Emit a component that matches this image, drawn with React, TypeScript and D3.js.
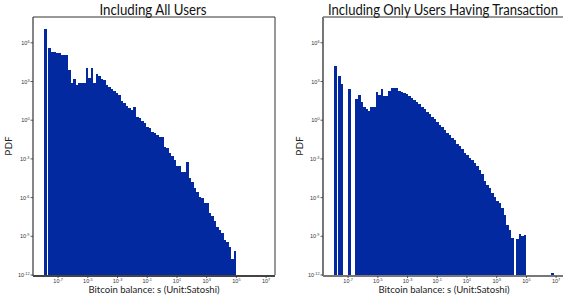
import React from "react";
import * as d3 from "d3";

// PDF per log-spaced bin (bins start at 10^-7.69, 0.169 decades wide)
const allUsers = [
  4.1e5, 1.8e5, 1.8e5, 1.6e5, 1.5e5, 1.2e5, 1.2e5, 1.2e5, 8.5e3, 7.1e2,
  1.7e3, 4.9e2, 7.1e2, 7.1e2, 7.1e2, 1.2e4, 2.0e3, 1.2e4, 7.1e2, 3.5e3,
  2.5e3, 1.7e3, 1.4e3, 4.9e2, 3.5e2, 2.5e2, 1.7e2, 1.2e2, 83, 29,
  20, 12, 8.3, 5.8, 9.8, 1.7, 1.4, 0.81, 0.58, 0.28,
  0.23, 0.115, 0.095, 0.068, 0.047, 0.047, 7.9e-3, 6.6e-3, 2.9e-3, 1.6e-3,
  7.8e-4, 2.7e-4, 2.7e-4, 9.3e-5, 9.3e-5, 5.5e-4, 3.2e-5, 1.6e-5, 5.4e-6, 2.6e-6,
  1.1e-6, 9.1e-7, 3.7e-7, 3.7e-7, 6.2e-8, 3.6e-8, 1.5e-8, 5.1e-9, 3.0e-9, 1.8e-9,
  5.1e-10, 3.5e-10, 1.5e-10, 1.7e-11, 7.2e-11,
];

const txUsers: (number | null)[] = [
  2.6e3, 5.9e2, null, null, 2.5e2, null, null, 41, 83, 25,
  10.5, 7.8, 5.1, 10.5, 10.5, 1.5e2, 83, 2.5e2, 71, 71,
  2.0e2, 3.3e2, 3.3e2, 3.3e2, 2.0e2, 1.5e2, 1.26e2, 1.1e2, 74, 51,
  39, 25, 17, 10.5, 6.9, 4.3, 2.8, 1.7, 1.3, 0.72,
  0.45, 0.3, 0.16, 0.1, 0.068, 0.045, 0.028, 0.015, 9.5e-3, 6.3e-3,
  2.9e-3, 1.9e-3, 1.26e-3, 7.8e-4, 4.9e-4, 2.7e-4, 1.5e-4, 6.5e-5, 1.9e-5, 9.1e-6,
  5.1e-6, 2.3e-6, 1.15e-6, 5.6e-7, 3.9e-7, 1.7e-7, 4.4e-8, 7.4e-9, 3.0e-9, 6.9e-10,
  null, 5.8e-10, 1.5e-9, 1.05e-9, 1.26e-9, null, null, null, null, null,
  null, null, null, null, null, 1.5e-12,
];

// separate leading bar (left of the binned range)
const leadAll = 1.1e7;
const leadTx = 1.5e4;
const leadBin = [-7.93, -7.765];

const binStart = -7.69;
const binWidth = 0.169;

const xTickExps = [-7, -5, -3, -1, 1, 3, 5, 7];
const yTickExps = [6, 3, 0, -3, -6, -9, -12];

const BLUE = "#0329a0";
const W = 242;
const H = 258;

const x = d3.scaleLog().domain([10 ** -8.69, 10 ** 7.6]).range([0, W]);
const y = d3.scaleLog().domain([1e-12, 1e8]).range([H, 0]);

type PanelProps = {
  left: number;
  title: string;
  titleW: number;
  values: (number | null)[];
  lead: number;
  spine: string;
  spineW: number;
};

const Pow = ({ exp }: { exp: number }) => (
  <>
    <tspan>10</tspan>
    <tspan fontSize={3.8} dy={-2}>{exp}</tspan>
  </>
);

const Panel = ({ left, title, titleW, values, lead, spine, spineW }: PanelProps) => {
  const top = 17;
  return (
    <g transform={`translate(${left},${top})`}>
      <text x={W / 2 - 1} y={-2.5} textAnchor="middle" fontSize={14.5}
        fontFamily="Lato, 'Liberation Sans', sans-serif" fill="#111"
        textLength={titleW} lengthAdjust="spacingAndGlyphs">
        {title}
      </text>
      <g shapeRendering="crispEdges">
        <rect x={x(10 ** leadBin[0])} width={x(10 ** leadBin[1]) - x(10 ** leadBin[0])}
          y={y(lead)} height={H - y(lead)} fill={BLUE} />
        {values.map((v, i) => {
          if (v == null) return null;
          const x0 = x(10 ** (binStart + i * binWidth));
          const x1 = x(10 ** (binStart + (i + 1) * binWidth));
          return <rect key={i} x={x0} width={x1 - x0 + 0.3} y={y(v)} height={H - y(v)} fill={BLUE} />;
        })}
      </g>
      {/* frame */}
      <line x1={0} x2={W} y1={0} y2={0} stroke="#333" strokeWidth={1} />
      <line x1={W} x2={W} y1={0} y2={H} stroke="#333" strokeWidth={1} />
      <line x1={0} x2={0} y1={0} y2={H + 1} stroke={spine} strokeWidth={spineW} />
      <line x1={0} x2={W} y1={H + 1} y2={H + 1} stroke={spine} strokeWidth={2} />
      {/* y ticks */}
      {yTickExps.map((e) => (
        <g key={e} transform={`translate(0,${y(10 ** e)})`}>
          <line x1={-2.5} x2={0} stroke="#333" strokeWidth={0.8} />
          <text x={-3.5} y={2} textAnchor="end" fontSize={5.5}
            fontFamily="'Liberation Sans', sans-serif" fill="#333">
            <Pow exp={e} />
          </text>
        </g>
      ))}
      {/* x ticks */}
      {xTickExps.map((e) => (
        <g key={e} transform={`translate(${x(10 ** e)},${H + 1})`}>
          <line y1={0} y2={2} stroke="#333" strokeWidth={0.8} />
          <text y={7} textAnchor="middle" fontSize={5.5}
            fontFamily="'Liberation Sans', sans-serif" fill="#333">
            <Pow exp={e} />
          </text>
        </g>
      ))}
      <text x={W / 2} y={H + 18} textAnchor="middle" fontSize={10}
        fontFamily="Lato, 'Liberation Sans', sans-serif" fill="#222"
        textLength={131} lengthAdjust="spacingAndGlyphs">
        Bitcoin balance: s (Unit:Satoshi)
      </text>
      <text transform={`translate(${left === 33 ? -21 : -20},${129}) rotate(-90)`}
        textAnchor="middle" fontSize={10}
        fontFamily="Lato, 'Liberation Sans', sans-serif" fill="#222">
        PDF
      </text>
    </g>
  );
};

export default function App() {
  return (
    <svg width={563} height={301} style={{ position: "absolute", left: 0, top: 0, background: "#fff" }}>
      <Panel left={33} title="Including All Users" titleW={107} values={allUsers} lead={leadAll} spine="#444" spineW={1.3} />
      <Panel left={323} title="Including Only Users Having Transaction" titleW={230} values={txUsers} lead={leadTx} spine="#777" spineW={2} />
    </svg>
  );
}
